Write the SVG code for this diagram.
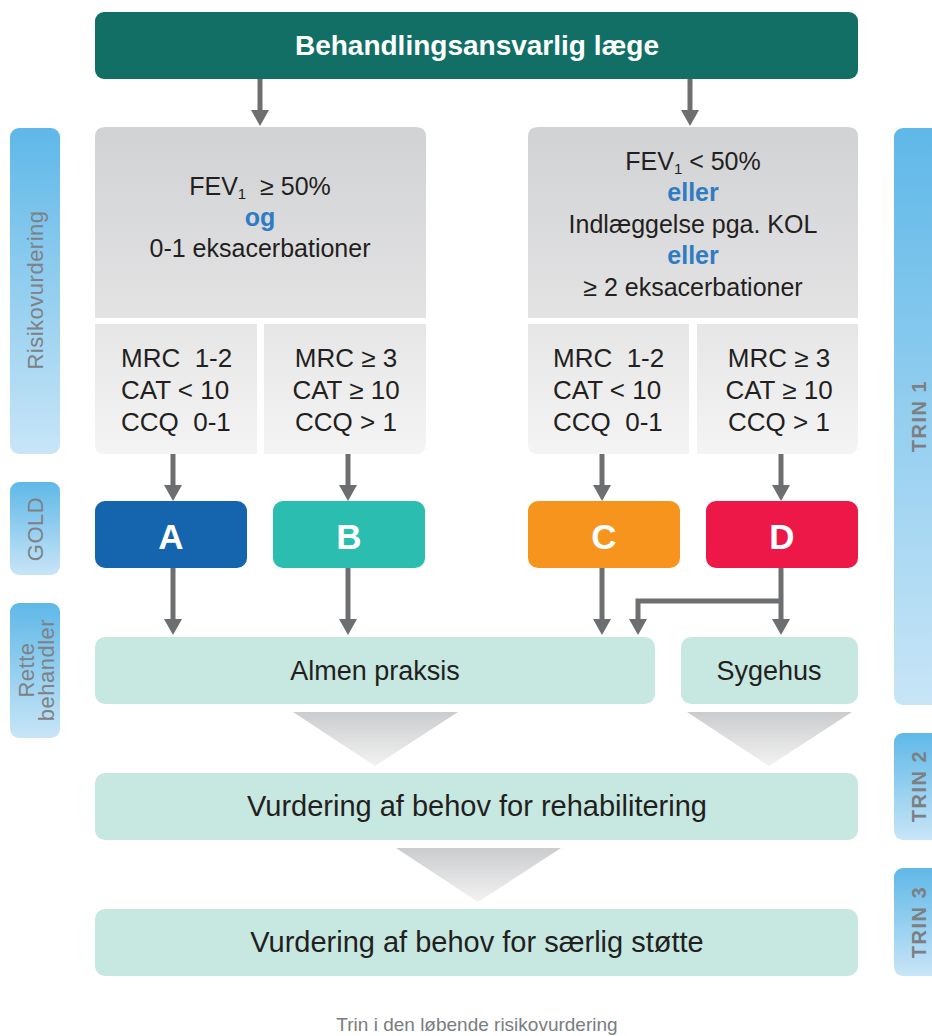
<svg xmlns="http://www.w3.org/2000/svg" width="932" height="1036" viewBox="0 0 932 1036">
<defs>
<linearGradient id="gTab" x1="0" y1="0" x2="0" y2="1"><stop offset="0" stop-color="#5fb8e8"/><stop offset="1" stop-color="#c8e5f7"/></linearGradient>
<linearGradient id="gTop" x1="0" y1="0" x2="0" y2="1"><stop offset="0" stop-color="#d1d2d4"/><stop offset="1" stop-color="#e3e3e4"/></linearGradient>
<linearGradient id="gSub" x1="0" y1="0" x2="0" y2="1"><stop offset="0" stop-color="#e6e6e7"/><stop offset="1" stop-color="#f4f4f4"/></linearGradient>
<linearGradient id="gTri" x1="0" y1="0" x2="0" y2="1"><stop offset="0" stop-color="#cbccce"/><stop offset="1" stop-color="#f2f2f2"/></linearGradient>
<marker id="ah" markerUnits="userSpaceOnUse" markerWidth="16" markerHeight="18" refX="2" refY="9" orient="auto" viewBox="0 0 16 18">
<path d="M0,0 L16,9 L0,18 Z" fill="#6d6e70"/>
</marker>
</defs>
<style>
text{font-family:"Liberation Sans",Arial,sans-serif;}
.c{text-anchor:middle;}
.dk{fill:#231f20;}
.bl{fill:#2f7cc3;font-weight:bold;}
.tab{fill:url(#gTab);}
.tabt{fill:#7f8184;font-size:22px;text-anchor:middle;letter-spacing:0.5px;}
.trin{fill:#7d7f82;font-size:20px;font-weight:bold;text-anchor:middle;letter-spacing:1.5px;}
.ln{stroke:#6d6e70;stroke-width:5;fill:none;}
.gold{fill:#fff;font-size:35px;font-weight:bold;text-anchor:middle;}
.mint{fill:#c7e7e1;}
.tri{fill:url(#gTri);}
</style>

<g id="tab-risiko"><rect class="tab" x="10" y="128" width="50" height="326" rx="9"/><text class="tabt" transform="translate(43,290) rotate(-90)">Risikovurdering</text></g>
<g id="tab-gold"><rect class="tab" x="10" y="482" width="50" height="93" rx="9"/><text class="tabt" transform="translate(43,529) rotate(-90)">GOLD</text></g>
<g id="tab-rette"><rect class="tab" x="10" y="603" width="50" height="135" rx="9"/><text class="tabt" transform="translate(34,670) rotate(-90)">Rette</text><text class="tabt" transform="translate(54,670) rotate(-90)">behandler</text></g>

<g id="trin1"><rect class="tab" x="894" y="128" width="60" height="577" rx="9"/><text class="trin" transform="translate(926,416) rotate(-90)">TRIN 1</text></g>
<g id="trin2"><rect class="tab" x="894" y="733" width="60" height="107" rx="9"/><text class="trin" transform="translate(926,786) rotate(-90)">TRIN 2</text></g>
<g id="trin3"><rect class="tab" x="894" y="868" width="60" height="108" rx="9"/><text class="trin" transform="translate(926,922) rotate(-90)">TRIN 3</text></g>

<g id="header"><rect x="95" y="12" width="763" height="67" rx="9" fill="#126f66"/><text class="c" x="477" y="55" fill="#fff" font-size="28" font-weight="bold">Behandlingsansvarlig læge</text></g>

<g id="left-crit">
<path d="M95,318 V137 Q95,127 105,127 H416 Q426,127 426,137 V318 Z" fill="url(#gTop)"/>
<text class="c dk" x="260" y="195" font-size="25">FEV<tspan font-size="15" dy="4">1</tspan><tspan dy="-4">&#160; ≥ 50%</tspan></text>
<text class="c bl" x="260" y="226" font-size="25">og</text>
<text class="c dk" x="260" y="257" font-size="25">0-1 eksacerbationer</text>
</g>
<g id="left-sub1"><path d="M95,324 H257 V454 H105 Q95,454 95,444 Z" fill="url(#gSub)"/>
<text class="dk" x="121" y="367" font-size="26">MRC&#160; 1-2</text><text class="dk" x="121" y="399" font-size="26">CAT &lt; 10</text><text class="dk" x="121" y="431" font-size="26">CCQ&#160; 0-1</text></g>
<g id="left-sub2"><path d="M264,324 H426 V444 Q426,454 416,454 H264 Z" fill="url(#gSub)"/>
<text class="c dk" x="346" y="367" font-size="26">MRC ≥ 3</text><text class="c dk" x="346" y="399" font-size="26">CAT ≥ 10</text><text class="c dk" x="346" y="431" font-size="26">CCQ &gt; 1</text></g>

<g id="right-crit">
<path d="M528,318 V137 Q528,127 538,127 H848 Q858,127 858,137 V318 Z" fill="url(#gTop)"/>
<text class="c dk" x="693" y="170" font-size="25">FEV<tspan font-size="15" dy="4">1</tspan><tspan dy="-4"> &lt; 50%</tspan></text>
<text class="c bl" x="693" y="201" font-size="25">eller</text>
<text class="c dk" x="693" y="233" font-size="25">Indlæggelse pga. KOL</text>
<text class="c bl" x="693" y="264" font-size="25">eller</text>
<text class="c dk" x="693" y="296" font-size="25">≥ 2 eksacerbationer</text>
</g>
<g id="right-sub1"><path d="M528,324 H689 V454 H538 Q528,454 528,444 Z" fill="url(#gSub)"/>
<text class="dk" x="553" y="367" font-size="26">MRC&#160; 1-2</text><text class="dk" x="553" y="399" font-size="26">CAT &lt; 10</text><text class="dk" x="553" y="431" font-size="26">CCQ&#160; 0-1</text></g>
<g id="right-sub2"><path d="M697,324 H858 V444 Q858,454 848,454 H697 Z" fill="url(#gSub)"/>
<text class="c dk" x="779" y="367" font-size="26">MRC ≥ 3</text><text class="c dk" x="779" y="399" font-size="26">CAT ≥ 10</text><text class="c dk" x="779" y="431" font-size="26">CCQ &gt; 1</text></g>

<g id="gold-A"><rect x="95" y="501" width="152" height="67" rx="10" fill="#1565ae"/><text class="gold" x="171" y="549">A</text></g>
<g id="gold-B"><rect x="273" y="501" width="152" height="67" rx="10" fill="#2bbdb0"/><text class="gold" x="349" y="549">B</text></g>
<g id="gold-C"><rect x="528" y="501" width="152" height="67" rx="10" fill="#f7941d"/><text class="gold" x="604" y="549">C</text></g>
<g id="gold-D"><rect x="706" y="501" width="152" height="67" rx="10" fill="#ed1848"/><text class="gold" x="782" y="549">D</text></g>

<g id="almen"><rect class="mint" x="95" y="637" width="560" height="67" rx="10"/><text class="c dk" x="375" y="680" font-size="27">Almen praksis</text></g>
<g id="sygehus"><rect class="mint" x="681" y="637" width="177" height="67" rx="10"/><text class="c dk" x="769" y="680" font-size="27">Sygehus</text></g>

<g id="tri-1"><polygon class="tri" points="293,712 458,712 375,766"/></g>
<g id="tri-2"><polygon class="tri" points="687,712 852,712 769,766"/></g>
<g id="rehab"><rect class="mint" x="95" y="773" width="763" height="67" rx="10"/><text class="c dk" x="477" y="816" font-size="29">Vurdering af behov for rehabilitering</text></g>
<g id="tri-3"><polygon class="tri" points="396,848 561,848 478,902"/></g>
<g id="stotte"><rect class="mint" x="95" y="909" width="763" height="67" rx="10"/><text class="c dk" x="477" y="952" font-size="29">Vurdering af behov for særlig støtte</text></g>

<g id="connectors">
<path class="ln" d="M260,79 V112" marker-end="url(#ah)"/>
<path class="ln" d="M690,79 V112" marker-end="url(#ah)"/>
<path class="ln" d="M173,454 V487" marker-end="url(#ah)"/>
<path class="ln" d="M348,454 V487" marker-end="url(#ah)"/>
<path class="ln" d="M602,454 V487" marker-end="url(#ah)"/>
<path class="ln" d="M781,454 V487" marker-end="url(#ah)"/>
<path class="ln" d="M173,568 V621" marker-end="url(#ah)"/>
<path class="ln" d="M348,568 V621" marker-end="url(#ah)"/>
<path class="ln" d="M602,568 V621" marker-end="url(#ah)"/>
<path class="ln" d="M781,568 V621" marker-end="url(#ah)"/>
<path class="ln" d="M781,601 H638 V621" marker-end="url(#ah)"/>
</g>

<text class="c" x="477" y="1031" font-size="19" fill="#7a7c80">Trin i den løbende risikovurdering</text>
</svg>
